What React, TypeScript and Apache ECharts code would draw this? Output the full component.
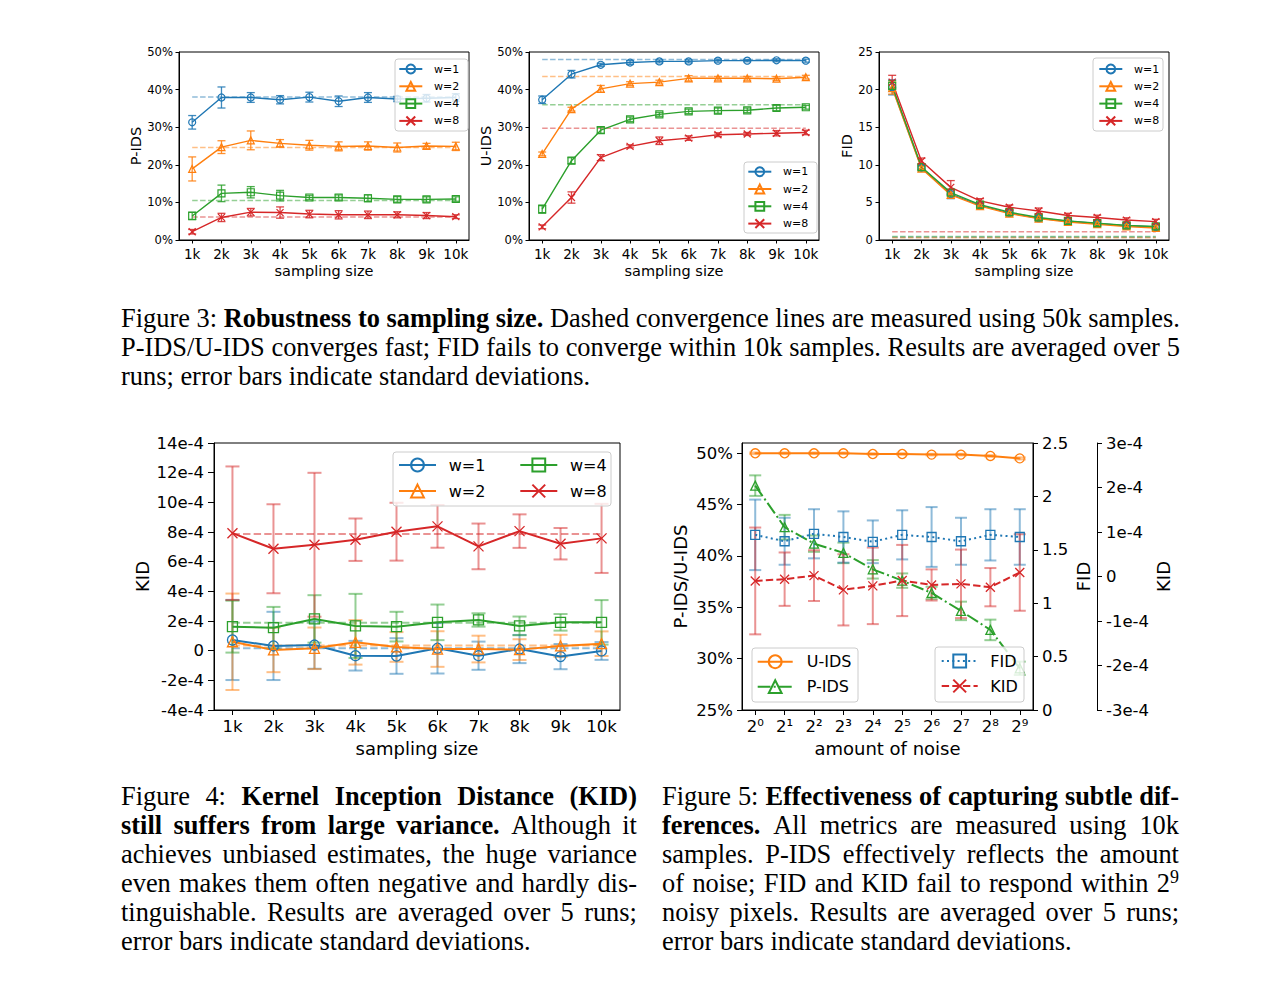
import React, { useEffect, useRef } from 'react';
import * as echarts from 'echarts';

const FONT = 'DejaVu Sans';
const SERIF = '"Liberation Serif", "Times New Roman", Times, serif';
const BLUE = '#1f77b4';
const ORANGE = '#ff7f0e';
const GREEN = '#2ca02c';
const RED = '#d62728';
const COLORS = [BLUE, ORANGE, GREEN, RED];
const X_PATH = 'path://M0,0L10,10M10,0L0,10';
const SYMBOLS = ['circle', 'triangle', 'rect', X_PATH];

// ---------- data ----------
const SIZES = [1, 2, 3, 4, 5, 6, 7, 8, 9, 10];
const SIZE_LABELS = ['1k', '2k', '3k', '4k', '5k', '6k', '7k', '8k', '9k', '10k'];
const W_NAMES = ['w=1', 'w=2', 'w=4', 'w=8'];

// Fig 3 (a) P-IDS, %
const PIDS_W1 = [31.3, 37.9, 37.9, 37.3, 38.0, 36.9, 37.9, 37.5, 37.7, 37.9];
const PIDS_W1_SD = [1.8, 2.8, 1.3, 1.1, 1.3, 1.4, 1.3, 0.7, 1.0, 1.0];
const PIDS_W2 = [18.9, 24.7, 26.5, 25.7, 25.2, 24.9, 25.0, 24.6, 25.0, 24.9];
const PIDS_W2_SD = [3.2, 1.7, 2.5, 1.0, 1.3, 1.2, 1.1, 1.2, 0.7, 1.1];
const PIDS_W4 = [6.4, 12.4, 12.7, 11.8, 11.3, 11.3, 11.1, 10.8, 10.8, 10.9];
const PIDS_W4_SD = [1.0, 2.2, 1.5, 1.4, 0.6, 0.7, 0.9, 0.75, 0.7, 0.6];
const PIDS_W8 = [2.2, 6.0, 7.4, 7.3, 6.9, 6.7, 6.7, 6.7, 6.5, 6.2];
const PIDS_W8_SD = [0.6, 1.1, 1.0, 1.5, 1.0, 1.1, 1.0, 0.8, 0.8, 0.5];
const PIDS_CONV = [38.0, 24.6, 10.5, 6.1];

// Fig 3 (b) U-IDS, %
const UIDS_W1 = [37.3, 44.1, 46.6, 47.2, 47.5, 47.5, 47.7, 47.7, 47.8, 47.7];
const UIDS_W1_SD = [1.0, 1.0, 0.4, 0.5, 0.4, 0.4, 0.4, 0.3, 0.4, 0.4];
const UIDS_W2 = [22.9, 34.8, 40.2, 41.6, 42.0, 43.0, 43.0, 43.0, 42.9, 43.3];
const UIDS_W2_SD = [0.5, 0.5, 0.9, 0.5, 0.5, 0.7, 0.5, 0.5, 0.5, 0.5];
const UIDS_W4 = [8.2, 21.1, 29.2, 32.1, 33.4, 34.2, 34.4, 34.5, 35.1, 35.3];
const UIDS_W4_SD = [1.1, 0.8, 0.8, 0.6, 0.5, 0.6, 0.7, 0.6, 0.7, 0.5];
const UIDS_W8 = [3.5, 11.3, 21.9, 24.9, 26.4, 27.1, 28.0, 28.2, 28.4, 28.6];
const UIDS_W8_SD = [0.5, 1.5, 0.8, 0.4, 1.0, 0.6, 0.5, 0.4, 0.7, 0.6];
const UIDS_CONV = [48.0, 43.5, 36.0, 29.7];

// Fig 3 (c) FID
const FID_W1 = [20.3, 9.6, 6.1, 4.6, 3.6, 2.9, 2.5, 2.2, 1.9, 1.75];
const FID_W1_SD = [1.0, 0.3, 0.6, 0.3, 0.3, 0.3, 0.3, 0.3, 0.3, 0.3];
const FID_W2 = [20.2, 9.5, 6.0, 4.5, 3.5, 2.85, 2.4, 2.1, 1.8, 1.6];
const FID_W2_SD = [0.8, 0.3, 0.4, 0.3, 0.3, 0.3, 0.3, 0.3, 0.3, 0.3];
const FID_W4 = [20.5, 9.7, 6.3, 4.7, 3.7, 3.0, 2.55, 2.25, 1.95, 1.8];
const FID_W4_SD = [0.7, 0.3, 0.4, 0.3, 0.3, 0.3, 0.3, 0.3, 0.3, 0.3];
const FID_W8 = [21.0, 10.5, 7.0, 5.2, 4.35, 3.85, 3.25, 3.0, 2.65, 2.45];
const FID_W8_SD = [0.9, 0.4, 0.9, 0.3, 0.3, 0.4, 0.3, 0.3, 0.3, 0.3];
const FID_CONV = [0.35, 0.3, 0.45, 1.1];

// Fig 4 KID, units of 1e-4
const KID_W1 = [0.72, 0.32, 0.38, -0.34, -0.36, 0.16, -0.34, 0.11, -0.4, -0.02];
const KID_W1_SD = [2.7, 2.3, 1.6, 1.0, 1.2, 1.7, 0.95, 0.95, 0.85, 0.6];
const KID_W2 = [0.6, 0.05, 0.16, 0.56, 0.25, 0.11, 0.11, 0.07, 0.32, 0.47];
const KID_W2_SD = [3.25, 1.5, 1.4, 1.5, 1.0, 1.2, 0.9, 0.7, 0.75, 0.83];
const KID_W4 = [1.62, 1.55, 2.14, 1.67, 1.62, 1.91, 2.07, 1.67, 1.91, 1.91];
const KID_W4_SD = [1.75, 1.4, 1.6, 2.16, 1.0, 1.2, 0.45, 0.63, 0.56, 1.5];
const KID_W8 = [7.92, 6.87, 7.14, 7.48, 8.02, 8.38, 7.03, 8.06, 7.21, 7.57];
const KID_W8_SD = [4.5, 3.0, 4.85, 1.43, 1.95, 1.44, 1.54, 1.13, 1.06, 2.33];
const KID_CONV = [0.16, 0.34, 1.89, 7.86];

// Fig 5 noise
const NOISE_EXP = [0, 1, 2, 3, 4, 5, 6, 7, 8, 9];
const NOISE_LABELS = ['2⁰', '2¹', '2²', '2³', '2⁴', '2⁵', '2⁶', '2⁷', '2⁸', '2⁹'];
const UIDS_NOISE = [50.0, 50.0, 50.0, 50.0, 49.93, 49.93, 49.87, 49.87, 49.74, 49.5];
const UIDS_NOISE_SD = [0.08, 0.08, 0.08, 0.08, 0.08, 0.08, 0.08, 0.08, 0.08, 0.1];
const PIDS_NOISE = [46.85, 42.8, 41.2, 40.3, 38.7, 37.6, 36.4, 34.65, 32.8, 29.06];
const PIDS_NOISE_SD = [1.0, 1.2, 0.8, 1.0, 0.9, 0.7, 0.6, 0.9, 1.0, 0.65];
const FID_NOISE = [1.64, 1.58, 1.65, 1.62, 1.575, 1.64, 1.62, 1.58, 1.64, 1.62];
const FID_NOISE_SD = [0.33, 0.22, 0.23, 0.24, 0.2, 0.23, 0.28, 0.22, 0.24, 0.26];
const KID_NOISE = [-0.1, -0.06, 0.02, -0.3, -0.21, -0.09, -0.19, -0.165, -0.24, 0.09];
const KID_NOISE_SD = [1.2, 0.6, 0.57, 0.8, 0.86, 0.8, 0.35, 0.77, 0.43, 0.86];
const PCT_TICKS = [25, 30, 35, 40, 45, 50];

// ---------- captions ----------
const FIG3_LINES = [
  'Figure 3: *Robustness to sampling size.* Dashed convergence lines are measured using 50k samples.',
  'P-IDS/U-IDS converges fast; FID fails to converge within 10k samples. Results are averaged over 5',
  'runs; error bars indicate standard deviations.',
];
const FIG4_LINES = [
  'Figure 4: *Kernel Inception Distance (KID)*',
  '*still suffers from large variance.* Although it',
  'achieves unbiased estimates, the huge variance',
  'even makes them often negative and hardly dis-',
  'tinguishable. Results are averaged over 5 runs;',
  'error bars indicate standard deviations.',
];
const FIG5_LINES = [
  'Figure 5: *Effectiveness of capturing subtle dif-*',
  '*ferences.* All metrics are measured using 10k',
  'samples. P-IDS effectively reflects the amount',
  'of noise; FID and KID fail to respond within 2^9',
  'noisy pixels. Results are averaged over 5 runs;',
  'error bars indicate standard deviations.',
];

// ---------- helpers ----------
const zip = (xs: number[], ys: number[]) => xs.map((x, i) => [x, ys[i]]);

function lineSeries(name: string, xs: number[], ys: number[], color: string, symbol: string, symbolSize: number,
  lineWidth: number, xi: number, yi: number, dash: any = 'solid', borderWidth = 1.2) {
  return {
    type: 'line', name, xAxisIndex: xi, yAxisIndex: yi, data: zip(xs, ys),
    symbol, symbolSize, showSymbol: true, silent: true, z: 3,
    lineStyle: { color, width: lineWidth, type: dash },
    itemStyle: { color: 'rgba(255,255,255,0)', borderColor: color, borderWidth },
    emphasis: { disabled: true },
  };
}

function errSeries(name: string, xs: number[], mean: number[], sd: number[], color: string, xi: number, yi: number,
  capHalf: number, width: number, opacity: number) {
  return {
    type: 'custom', name, xAxisIndex: xi, yAxisIndex: yi, silent: true, z: 2,
    data: xs.map((x, i) => [x, mean[i] - sd[i], mean[i] + sd[i]]),
    encode: { x: 0, y: [1, 2] },
    renderItem: (params: any, api: any) => {
      const x = api.value(0);
      const lo = api.coord([x, api.value(1)]);
      const hi = api.coord([x, api.value(2)]);
      const style = { stroke: color, lineWidth: width, opacity };
      return {
        type: 'group',
        children: [
          { type: 'line', shape: { x1: lo[0], y1: lo[1], x2: hi[0], y2: hi[1] }, style },
          { type: 'line', shape: { x1: lo[0] - capHalf, y1: lo[1], x2: lo[0] + capHalf, y2: lo[1] }, style },
          { type: 'line', shape: { x1: hi[0] - capHalf, y1: hi[1], x2: hi[0] + capHalf, y2: hi[1] }, style },
        ],
      };
    },
  };
}

function convSeries(name: string, value: number, color: string, xi: number, yi: number, width: number, dash: number[]) {
  return {
    type: 'line', name, xAxisIndex: xi, yAxisIndex: yi, data: [[SIZES[0], value], [SIZES[SIZES.length - 1], value]],
    symbol: 'none', silent: true, z: 1,
    lineStyle: { color, width, type: dash, opacity: 0.5 },
  };
}

const axisLineStyle = { show: true, onZero: false, lineStyle: { color: '#000', width: 1 } };

function sizeXAxis(gi: number, fs: number, nameFs: number, margin: number, nameGap: number, tickLen: number) {
  return {
    type: 'value', gridIndex: gi, min: 0.55, max: 10.45,
    name: 'sampling size', nameLocation: 'middle', nameGap,
    nameTextStyle: { fontSize: nameFs, fontFamily: FONT, color: '#000' },
    axisLine: axisLineStyle,
    axisTick: { show: true, length: tickLen, lineStyle: { color: '#000' }, customValues: SIZES },
    axisLabel: {
      customValues: SIZES, fontSize: fs, fontFamily: FONT, color: '#000', margin,
      formatter: (v: number) => SIZE_LABELS[SIZES.indexOf(v)] ?? '',
    },
    splitLine: { show: false },
  };
}

function yAxisBase(gi: number, name: string, min: number, max: number, interval: number, fmt: any,
  fs: number, nameFs: number, margin: number, nameGap: number, tickLen: number) {
  return {
    type: 'value', gridIndex: gi, min, max, interval,
    name, nameLocation: 'middle', nameGap,
    nameTextStyle: { fontSize: nameFs, fontFamily: FONT, color: '#000' },
    axisLine: axisLineStyle,
    axisTick: { show: true, length: tickLen, lineStyle: { color: '#000' } },
    axisLabel: { fontSize: fs, fontFamily: FONT, color: '#000', margin, formatter: fmt },
    splitLine: { show: false },
  };
}

const nameFmt = (n: string) => n.split('#')[0];

function legend(names: string[], left: number, top: number, itemWidth: number, itemHeight: number, itemGap: number,
  fs: number, textPad: number) {
  return {
    data: names, orient: 'vertical', left, top, padding: 0, itemWidth, itemHeight, itemGap,
    selectedMode: false, z: 10, formatter: nameFmt,
    textStyle: { fontSize: fs, fontFamily: FONT, color: '#000', padding: [0, 0, 0, textPad] },
  };
}

function legendBox(x: number, y: number, width: number, height: number) {
  return {
    type: 'rect', z: 9, shape: { x, y, width, height, r: 3 },
    style: { fill: 'rgba(255,255,255,0.8)', stroke: '#cccccc', lineWidth: 1 },
  };
}

function buildOption() {
  const grids = [
    { left: 179, top: 52, width: 290, height: 188 },
    { left: 529, top: 52, width: 290, height: 188 },
    { left: 879, top: 52, width: 290, height: 188 },
    { left: 214, top: 443, width: 406, height: 267 },
    { left: 742, top: 443, width: 291, height: 267 },
  ].map((g) => ({ ...g, show: true, borderColor: '#000', borderWidth: 1, backgroundColor: 'transparent' }));

  const xAxis: any[] = [
    sizeXAxis(0, 13.5, 14.5, 7, 23, 3.5),
    sizeXAxis(1, 13.5, 14.5, 7, 23, 3.5),
    sizeXAxis(2, 13.5, 14.5, 7, 23, 3.5),
    sizeXAxis(3, 16.5, 18, 8, 29, 5),
    {
      type: 'value', gridIndex: 4, min: -0.45, max: 9.45,
      name: 'amount of noise', nameLocation: 'middle', nameGap: 29,
      nameTextStyle: { fontSize: 18, fontFamily: FONT, color: '#000' },
      axisLine: axisLineStyle,
      axisTick: { show: true, length: 5, lineStyle: { color: '#000' }, customValues: NOISE_EXP },
      axisLabel: {
        customValues: NOISE_EXP, fontSize: 16.5, fontFamily: FONT, color: '#000', margin: 8,
        formatter: (v: number) => NOISE_LABELS[NOISE_EXP.indexOf(v)] ?? '',
      },
      splitLine: { show: false },
    },
  ];

  const kidFmt = (v: number) => (v === 0 ? '0' : `${v}e-4`);
  const yAxis: any[] = [
    yAxisBase(0, 'P-IDS', 0, 50, 10, '{value}%', 11.6, 14.5, 6, 34, 3.5),
    yAxisBase(1, 'U-IDS', 0, 50, 10, '{value}%', 11.6, 14.5, 6, 34, 3.5),
    yAxisBase(2, 'FID', 0, 25, 5, '{value}', 11.6, 14.5, 6, 25, 3.5),
    yAxisBase(3, 'KID', -4, 14, 2, kidFmt, 16.5, 18, 10, 63, 6),
    {
      ...yAxisBase(4, 'P-IDS/U-IDS', 25, 51, 5, '{value}%', 16.5, 18, 9, 53, 5),
      axisTick: { show: true, length: 5, lineStyle: { color: '#000' }, customValues: PCT_TICKS },
      axisLabel: { customValues: PCT_TICKS, fontSize: 16.5, fontFamily: FONT, color: '#000', margin: 9, formatter: '{value}%' },
    },
    { ...yAxisBase(4, 'FID', 0, 2.5, 0.5, (v: number) => String(v), 16.5, 18, 9, 41, 5), position: 'right' },
    { ...yAxisBase(4, 'KID', -3, 3, 1, kidFmt, 16.5, 18, 9, 57, 5), position: 'right', offset: 64 },
  ];

  const series: any[] = [];
  const topSets = [
    { means: [PIDS_W1, PIDS_W2, PIDS_W4, PIDS_W8], sds: [PIDS_W1_SD, PIDS_W2_SD, PIDS_W4_SD, PIDS_W8_SD], conv: PIDS_CONV },
    { means: [UIDS_W1, UIDS_W2, UIDS_W4, UIDS_W8], sds: [UIDS_W1_SD, UIDS_W2_SD, UIDS_W4_SD, UIDS_W8_SD], conv: UIDS_CONV },
    { means: [FID_W1, FID_W2, FID_W4, FID_W8], sds: [FID_W1_SD, FID_W2_SD, FID_W4_SD, FID_W8_SD], conv: FID_CONV },
  ];
  const tags = ['a', 'b', 'c'];
  topSets.forEach((set, ci) => {
    for (let k = 0; k < 4; k++) {
      series.push(convSeries(`conv${ci}_${k}`, set.conv[k], COLORS[k], ci, ci, 1.5, [5.5, 2.4]));
      series.push(errSeries(`err${ci}_${k}`, SIZES, set.means[k], set.sds[k], COLORS[k], ci, ci, 4, 1.3, 0.85));
      series.push(lineSeries(`${W_NAMES[k]}#${tags[ci]}`, SIZES, set.means[k], COLORS[k], SYMBOLS[k], 7, 1.4, ci, ci));
    }
  });

  const kidMeans = [KID_W1, KID_W2, KID_W4, KID_W8];
  const kidSds = [KID_W1_SD, KID_W2_SD, KID_W4_SD, KID_W8_SD];
  for (let k = 0; k < 4; k++) {
    series.push(convSeries(`conv3_${k}`, KID_CONV[k], COLORS[k], 3, 3, 2, [7.4, 3.2]));
    series.push(errSeries(`err3_${k}`, SIZES, kidMeans[k], kidSds[k], COLORS[k], 3, 3, 7, 2, 0.5));
    series.push(lineSeries(`${W_NAMES[k]}#d`, SIZES, kidMeans[k], COLORS[k], SYMBOLS[k], 10, 2, 3, 3, 'solid', 1.3));
  }

  // Fig 5
  series.push(errSeries('err4_u', NOISE_EXP, UIDS_NOISE, UIDS_NOISE_SD, ORANGE, 4, 4, 6, 2, 0.5));
  series.push(errSeries('err4_p', NOISE_EXP, PIDS_NOISE, PIDS_NOISE_SD, GREEN, 4, 4, 6, 2, 0.5));
  series.push(errSeries('err4_f', NOISE_EXP, FID_NOISE, FID_NOISE_SD, BLUE, 4, 5, 6, 2, 0.5));
  series.push(errSeries('err4_k', NOISE_EXP, KID_NOISE, KID_NOISE_SD, RED, 4, 6, 6, 2, 0.5));
  series.push(lineSeries('U-IDS', NOISE_EXP, UIDS_NOISE, ORANGE, 'circle', 9, 2, 4, 4, 'solid', 1.3));
  series.push(lineSeries('P-IDS', NOISE_EXP, PIDS_NOISE, GREEN, 'triangle', 9, 2, 4, 4, [12.8, 3.2, 2, 3.2], 1.3));
  series.push(lineSeries('FID', NOISE_EXP, FID_NOISE, BLUE, 'rect', 9, 2, 4, 5, [2, 3.3], 1.3));
  series.push(lineSeries('KID', NOISE_EXP, KID_NOISE, RED, X_PATH, 9, 2, 4, 6, [7.4, 3.2], 1.3));

  const legends = [
    legend(W_NAMES.map((n) => `${n}#a`), 398.3, 63.5, 23, 11, 6.3, 11, 6.7),
    legend(W_NAMES.map((n) => `${n}#b`), 747.3, 166.2, 23, 11, 6.3, 11, 6.7),
    legend(W_NAMES.map((n) => `${n}#c`), 1098.3, 63.5, 23, 11, 6.3, 11, 6.7),
    legend([`${W_NAMES[0]}#d`, `${W_NAMES[1]}#d`], 398, 457, 37, 16, 10, 16, 7.7),
    legend([`${W_NAMES[2]}#d`, `${W_NAMES[3]}#d`], 519.3, 457, 37, 16, 10, 16, 7.7),
    legend(['U-IDS', 'P-IDS'], 756.7, 653.7, 35, 16, 9, 16, 9),
    legend(['FID', 'KID'], 940.7, 653, 36, 16, 9, 16, 7.6),
  ];

  const graphic = [
    legendBox(395, 59, 73, 72),
    legendBox(744, 162, 73, 71),
    legendBox(1093, 58, 70, 73),
    legendBox(393, 452, 218, 54),
    legendBox(752, 648, 106, 54),
    legendBox(935, 647, 89, 55),
  ];

  return {
    animation: false,
    backgroundColor: '#ffffff',
    textStyle: { fontFamily: FONT },
    grid: grids,
    xAxis,
    yAxis,
    legend: legends,
    graphic,
    series,
  };
}

// ---------- caption rendering ----------
type Seg = { t: string; b: boolean; sup: boolean };
function parseLine(s: string): Seg[][] {
  let bold = false;
  const words: Seg[][] = [];
  for (const raw of s.split(' ')) {
    const segs: Seg[] = [];
    let cur = '';
    let sup = false;
    for (const ch of raw) {
      if (ch === '*' || ch === '^') {
        if (cur) segs.push({ t: cur, b: bold, sup });
        cur = '';
        if (ch === '*') bold = !bold;
        else sup = true;
      } else cur += ch;
    }
    if (cur) segs.push({ t: cur, b: bold, sup });
    if (segs.length) words.push(segs);
  }
  return words;
}

function Caption({ lines, left, top, width }: { lines: string[]; left: number; top: number; width: number }) {
  return (
    <>
      {lines.map((line, li) => {
        const last = li === lines.length - 1;
        const words = parseLine(line);
        return (
          <div
            key={li}
            style={{
              position: 'absolute', left, top: top + li * 29, width, height: 29,
              display: 'flex', alignItems: 'baseline', justifyContent: last ? 'flex-start' : 'space-between',
              columnGap: last ? '0.25em' : 0, whiteSpace: 'nowrap',
              fontFamily: SERIF, fontSize: 26.4, lineHeight: '29px', color: '#000',
            }}
          >
            {words.map((segs, wi) => (
              <span key={wi}>
                {segs.map((sg, si) => (
                  <span
                    key={si}
                    style={{
                      fontWeight: sg.b ? 'bold' : 'normal',
                      ...(sg.sup ? { fontSize: '0.68em', position: 'relative', top: '-0.5em' } : {}),
                    }}
                  >
                    {sg.t}
                  </span>
                ))}
              </span>
            ))}
          </div>
        );
      })}
    </>
  );
}

export default function App() {
  const ref = useRef<HTMLDivElement>(null);
  useEffect(() => {
    if (!ref.current) return;
    const chart = echarts.init(ref.current, null, { renderer: 'svg' });
    chart.setOption(buildOption() as any);
    return () => chart.dispose();
  }, []);
  return (
    <div style={{ position: 'absolute', left: 0, top: 0, width: 1264, height: 984, background: '#fff', overflow: 'hidden' }}>
      <div ref={ref} style={{ position: 'absolute', left: 0, top: 0, width: 1264, height: 984 }} />
      <Caption lines={FIG3_LINES} left={121} top={303.6} width={1059} />
      <Caption lines={FIG4_LINES} left={121} top={782} width={516} />
      <Caption lines={FIG5_LINES} left={662} top={782} width={517} />
    </div>
  );
}
